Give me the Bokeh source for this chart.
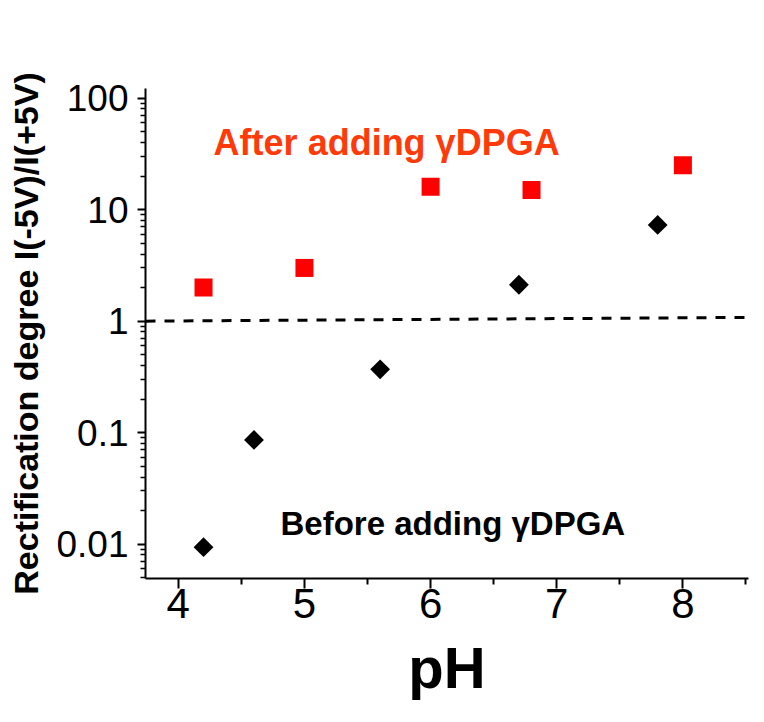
from bokeh.plotting import figure
from bokeh.models import FixedTicker, CustomJSTickFormatter, Range1d, Label, ColumnDataSource
from bokeh.embed import file_html
from bokeh.resources import INLINE

# Data
ph_after = [4.2, 5.0, 6.0, 6.8, 8.0]
rect_after = [2.0, 3.0, 16.0, 15.0, 25.0]
ph_before = [4.2, 4.6, 5.6, 6.7, 7.8]
rect_before = [0.0094, 0.086, 0.37, 2.12, 7.3]
ref_x = [3.74, 8.52]
ref_y = [1.0, 1.08]
x_ticks = [4, 5, 6, 7, 8]
x_minor = [4.5, 5.5, 6.5, 7.5, 8.5]
y_ticks = [0.01, 0.1, 1, 10, 100]
y_minor = [k * d for d in [0.001, 0.01, 0.1, 1, 10] for k in range(2, 10)]
label_after = "After adding γDPGA"
label_before = "Before adding γDPGA"

FONT = "Liberation Sans"

p = figure(width=760, height=720, output_backend="svg", toolbar_location=None,
           y_axis_type="log",
           x_range=Range1d(3.74, 8.52), y_range=Range1d(0.00492, 122),
           min_border_left=145, min_border_right=12, min_border_top=88, min_border_bottom=142)
p.outline_line_color = None
p.xgrid.visible = False
p.ygrid.visible = False
p.background_fill_color = "white"
p.border_fill_color = "white"

# reference line at 1
p.line(ref_x, ref_y, line_color="black", line_width=3, line_dash="10 9")

src_a = ColumnDataSource(dict(x=ph_after, y=rect_after))
src_b = ColumnDataSource(dict(x=ph_before, y=rect_before))
p.scatter("x", "y", source=src_a, marker="square", size=18, fill_color="#FF0000", line_color=None)
p.scatter("x", "y", source=src_b, marker="square", size=14, angle=0.7853981634,
          fill_color="black", line_color=None)

p.add_layout(Label(x=4.28, y=40, text=label_after, text_font=FONT, text_font_style="bold",
                   text_font_size="36px", text_color="#FF3A0A", text_baseline="alphabetic"))
p.add_layout(Label(x=4.81, y=0.0154, text=label_before, text_font=FONT, text_font_style="bold",
                   text_font_size="33px", text_color="black", text_baseline="alphabetic"))

# axes
xa = p.xaxis[0]
xa.ticker = FixedTicker(ticks=x_ticks, minor_ticks=x_minor)
xa.axis_label = "pH"
xa.axis_label_text_font = FONT
xa.axis_label_text_font_style = "bold"
xa.axis_label_text_font_size = "58px"
xa.axis_label_text_color = "black"
xa.axis_label_standoff = 14
xa.major_label_text_font = FONT
xa.major_label_text_font_size = "42px"
xa.major_label_text_color = "black"
xa.major_label_standoff = 0
xa.axis_line_width = 2
xa.axis_line_color = "black"
xa.major_tick_line_width = 2
xa.minor_tick_line_width = 2
xa.major_tick_out = 10
xa.major_tick_in = 0
xa.minor_tick_out = 6
xa.minor_tick_in = 0

ya = p.yaxis[0]
ya.ticker = FixedTicker(ticks=y_ticks, minor_ticks=y_minor)
ya.formatter = CustomJSTickFormatter(code="return String(tick);")
ya.axis_label = "Rectification degree I(-5V)/I(+5V)"
ya.axis_label_text_font = FONT
ya.axis_label_text_font_style = "bold"
ya.axis_label_text_font_size = "34px"
ya.axis_label_text_color = "black"
ya.axis_label_standoff = 8
ya.major_label_text_font = FONT
ya.major_label_text_font_size = "37px"
ya.major_label_text_color = "black"
ya.major_label_standoff = 9
ya.axis_line_width = 2
ya.axis_line_color = "black"
ya.major_tick_line_width = 2
ya.minor_tick_line_width = 1.5
ya.major_tick_out = 8
ya.major_tick_in = 0
ya.minor_tick_out = 5
ya.minor_tick_in = 0

open("out.html", "w").write(file_html(p, INLINE))
